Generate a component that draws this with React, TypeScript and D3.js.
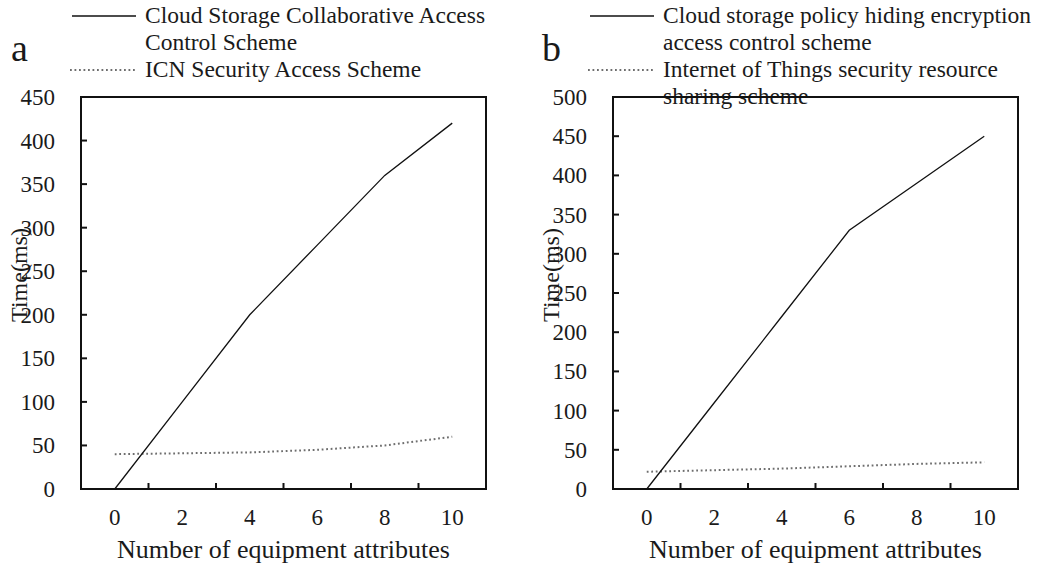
import React from "react";
import * as d3 from "d3";

const categories = ["0", "2", "4", "6", "8", "10"];
const seriesA1 = [0, 100, 200, 280, 360, 420];
const seriesA2 = [40, 41, 42, 45, 50, 60];
const seriesB1 = [0, 110, 220, 330, 390, 450];
const seriesB2 = [22, 24, 26, 29, 32, 34];
const ticksA = [0, 50, 100, 150, 200, 250, 300, 350, 400, 450];
const ticksB = [0, 50, 100, 150, 200, 250, 300, 350, 400, 450, 500];
const legendA1 = ["Cloud Storage Collaborative Access", "Control Scheme"];
const legendA2 = ["ICN Security Access Scheme"];
const legendB1 = ["Cloud storage policy hiding encryption", "access control scheme"];
const legendB2 = ["Internet of Things security resource", "sharing scheme"];

const FONT = "'Liberation Serif', 'Times New Roman', serif";
const TXT = "#1a1a1a";
const DOT = "#6e6e6e";

type PanelProps = {
  left: number;
  right: number;
  top: number;
  bottom: number;
  yMax: number;
  yTicks: number[];
  s1: number[];
  s2: number[];
  leg1: string[];
  leg2: string[];
  letter: string;
  letterX: number;
  legendX: number;
  titleX: number;
};

function Panel(p: PanelProps) {
  const x = d3.scaleBand<string>().domain(categories).range([p.left, p.right]);
  const y = d3.scaleLinear().domain([0, p.yMax]).range([p.bottom, p.top]);
  const cx = (c: string) => (x(c) as number) + x.bandwidth() / 2;
  const line = d3
    .line<number>()
    .x((_, i) => cx(categories[i]))
    .y((d) => y(d));
  const lh = 27;
  const l1y = 23;
  const l2y = l1y + lh * p.leg1.length;
  return (
    <g>
      <text x={p.letterX} y={61} fontSize={38} fontFamily={FONT} fill={TXT}>
        {p.letter}
      </text>
      <line x1={p.legendX} x2={p.legendX + 64} y1={16} y2={16} stroke="#111" strokeWidth={1.3} />
      {p.leg1.map((t, i) => (
        <text key={"a" + i} x={p.legendX + 73} y={l1y + i * lh} fontSize={23.5} fontFamily={FONT} fill={TXT}>
          {t}
        </text>
      ))}
      <line
        x1={p.legendX - 2}
        x2={p.legendX + 64}
        y1={l2y - 7}
        y2={l2y - 7}
        stroke={DOT}
        strokeWidth={2}
        strokeDasharray="1.8,2.7"
      />
      {p.leg2.map((t, i) => (
        <text key={"b" + i} x={p.legendX + 73} y={l2y + i * lh} fontSize={23.5} fontFamily={FONT} fill={TXT}>
          {t}
        </text>
      ))}
      {/* plot box */}
      <rect
        x={p.left}
        y={p.top}
        width={p.right - p.left}
        height={p.bottom - p.top}
        fill="none"
        stroke="#111"
        strokeWidth={2}
      />
      {/* y ticks */}
      {p.yTicks.map((t) => (
        <g key={"y" + t}>
          <line x1={p.left} x2={p.left + 6} y1={y(t)} y2={y(t)} stroke="#111" strokeWidth={2} />
          <text
            x={p.left - 26}
            y={y(t)}
            dy="0.35em"
            textAnchor="end"
            fontSize={23}
            fontFamily={FONT}
            fill={TXT}
          >
            {t}
          </text>
        </g>
      ))}
      {/* x ticks at category boundaries */}
      {categories.slice(1).map((c) => (
        <line
          key={"xt" + c}
          x1={x(c) as number}
          x2={x(c) as number}
          y1={p.bottom}
          y2={p.bottom - 6}
          stroke="#111"
          strokeWidth={2}
        />
      ))}
      {categories.map((c) => (
        <text key={"xl" + c} x={cx(c)} y={525} textAnchor="middle" fontSize={23} fontFamily={FONT} fill={TXT}>
          {c}
        </text>
      ))}
      <text
        x={(p.left + p.right) / 2}
        y={558}
        textAnchor="middle"
        fontSize={26}
        fontFamily={FONT}
        fill={TXT}
      >
        Number of equipment attributes
      </text>
      <text
        transform={`translate(${p.titleX},275) rotate(-90)`}
        textAnchor="middle"
        dy="0.35em"
        fontSize={24}
        fontFamily={FONT}
        fill={TXT}
      >
        Time(ms)
      </text>
      <path d={line(p.s2) || ""} fill="none" stroke={DOT} strokeWidth={2} strokeDasharray="1.8,2.7" />
      <path d={line(p.s1) || ""} fill="none" stroke="#111" strokeWidth={1.3} />
    </g>
  );
}

export default function App() {
  return (
    <svg
      width={1042}
      height={567}
      style={{ position: "absolute", left: 0, top: 0, background: "#fff" }}
    >
      <rect x={0} y={0} width={1042} height={567} fill="#fff" />
      <Panel
        left={81}
        right={486}
        top={97}
        bottom={489}
        yMax={450}
        yTicks={ticksA}
        s1={seriesA1}
        s2={seriesA2}
        leg1={legendA1}
        leg2={legendA2}
        letter="a"
        letterX={11}
        legendX={72}
        titleX={19}
      />
      <Panel
        left={613}
        right={1018}
        top={97}
        bottom={489}
        yMax={500}
        yTicks={ticksB}
        s1={seriesB1}
        s2={seriesB2}
        leg1={legendB1}
        leg2={legendB2}
        letter="b"
        letterX={542}
        legendX={590}
        titleX={551}
      />
    </svg>
  );
}
